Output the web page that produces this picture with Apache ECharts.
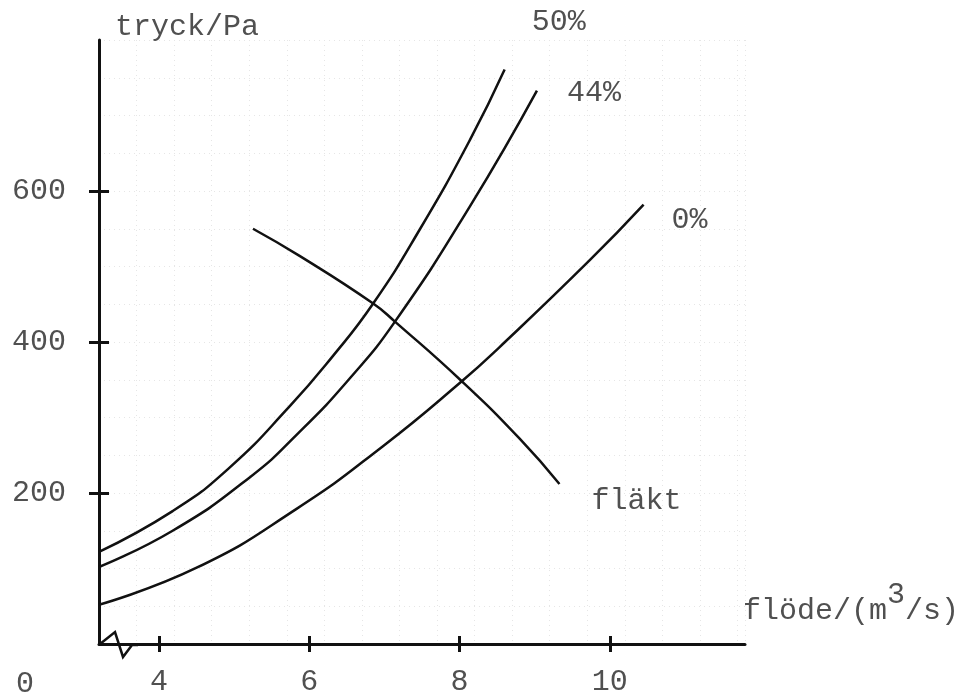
<!DOCTYPE html>
<html>
<head>
<meta charset="utf-8">
<script src="https://cdn.jsdelivr.net/npm/echarts@6/dist/echarts.min.js"></script>
<style>
  html, body { margin: 0; padding: 0; background: #ffffff; }
  #chart { width: 969px; height: 697px; }
</style>
</head>
<body>
<div id="chart"></div>
<script>
// System curves (damper opening) and fan curve: flow in m3/s, pressure in Pa
const flow50 = [3.2, 4.18, 4.92, 5.74, 6.31, 6.85, 7.47, 8.14, 8.6];
const pressure50 = [122, 176, 232, 315, 381, 451, 549, 668, 761];

const flow44 = [3.2, 4.18, 5.21, 5.87, 6.54, 7.14, 8.14, 9.03];
const pressure44 = [102, 150, 221, 281, 352, 427, 580, 733];

const flow0 = [3.2, 4.5, 5.83, 6.98, 8.03, 8.53, 9.73, 10.45];
const pressure0 = [52, 101, 179, 262, 348, 393, 508, 582];

const flowFan = [5.25, 5.87, 6.85, 7.14, 8.03, 8.8, 9.33];
const pressureFan = [550, 514, 451, 427, 348, 272, 212];

const curveNames = ['50%', '44%', '0%', 'fläkt'];

// Axis tick labels
const flowTicks = [4, 6, 8, 10];
const pressureTicks = [200, 400, 600];
const originLabel = '0';

const MONO = '"Liberation Mono", "DejaVu Sans Mono", monospace';
const INK = '#111111';
const TEXT = '#505050';

function pairs(xs, ys) {
  return xs.map((x, i) => [x, ys[i]]);
}

const chart = echarts.init(document.getElementById('chart'), null, { renderer: 'canvas' });

const labelStyle = { fontFamily: MONO, fontSize: 30, color: TEXT };

function curve(name, xs, ys, offset) {
  return {
    name: name,
    type: 'line',
    xAxisIndex: 0,
    yAxisIndex: 0,
    data: pairs(xs, ys),
    showSymbol: false,
    symbol: 'none',
    smooth: 0.5,
    lineStyle: { color: INK, width: 2.5 },
    endLabel: Object.assign({
      show: true,
      formatter: name,
      distance: 0,
      offset: offset,
      align: 'left',
      verticalAlign: 'middle'
    }, labelStyle),
    emphasis: { disabled: true },
    z: 5
  };
}

const flowRange = { min: 3.2, max: 11.8 };
const pressureRange = { min: 0, max: 800 };

const option = {
  animation: false,
  backgroundColor: '#ffffff',
  grid: { left: 99, right: 224, top: 40, bottom: 52 },
  xAxis: [
    {
      type: 'value',
      min: flowRange.min,
      max: flowRange.max,
      interval: 0.5,
      position: 'bottom',
      axisLine: { show: true, onZero: false, lineStyle: { color: INK, width: 3 } },
      axisTick: { show: false },
      axisLabel: { show: false },
      splitLine: { show: true, lineStyle: { color: '#e6e6e6', width: 1, type: [1, 4] } },
      name: '{a|flöde/(m}{s|3}{a|/s)}',
      nameLocation: 'end',
      nameGap: -2,
      nameTextStyle: {
        align: 'left',
        verticalAlign: 'bottom',
        padding: [0, 0, 18, 0],
        rich: {
          a: Object.assign({ verticalAlign: 'bottom', lineHeight: 30 }, labelStyle),
          s: Object.assign({ verticalAlign: 'bottom', lineHeight: 30, padding: [0, 0, 16, 0] }, labelStyle)
        }
      }
    },
    {
      type: 'value',
      min: flowRange.min,
      max: flowRange.max,
      position: 'bottom',
      axisLine: { show: false, onZero: false },
      axisTick: { show: true, customValues: flowTicks, length: 8, lineStyle: { color: INK, width: 3 } },
      axisLabel: Object.assign({ show: true, customValues: flowTicks, margin: 23 }, labelStyle),
      splitLine: { show: false }
    },
    {
      type: 'value',
      min: flowRange.min,
      max: flowRange.max,
      position: 'bottom',
      axisLine: { show: false, onZero: false },
      axisTick: { show: true, inside: true, customValues: flowTicks, length: 8, lineStyle: { color: INK, width: 3 } },
      axisLabel: { show: false },
      splitLine: { show: false }
    }
  ],
  yAxis: [
    {
      type: 'value',
      min: pressureRange.min,
      max: pressureRange.max,
      interval: 50,
      position: 'left',
      axisLine: { show: true, onZero: false, lineStyle: { color: INK, width: 3 } },
      axisTick: { show: false },
      axisLabel: { show: false },
      splitLine: { show: true, lineStyle: { color: '#e6e6e6', width: 1, type: [1, 4] } },
      name: 'tryck/Pa',
      nameLocation: 'end',
      nameGap: 13,
      nameTextStyle: Object.assign({ align: 'left', verticalAlign: 'middle', padding: [0, 0, 0, 16] }, labelStyle)
    },
    {
      type: 'value',
      min: pressureRange.min,
      max: pressureRange.max,
      position: 'left',
      axisLine: { show: false, onZero: false },
      axisTick: { show: true, customValues: pressureTicks, length: 10, lineStyle: { color: INK, width: 3 } },
      axisLabel: Object.assign({ show: true, customValues: pressureTicks, margin: 33 }, labelStyle),
      splitLine: { show: false }
    },
    {
      type: 'value',
      min: pressureRange.min,
      max: pressureRange.max,
      position: 'left',
      axisLine: { show: false, onZero: false },
      axisTick: { show: true, inside: true, customValues: pressureTicks, length: 10, lineStyle: { color: INK, width: 3 } },
      axisLabel: { show: false },
      splitLine: { show: false }
    }
  ],
  graphic: [
    {
      // broken-axis mark near the origin
      type: 'polyline',
      shape: { points: [[100, 644], [115, 632], [123, 657], [132, 645], [138, 645]] },
      style: { stroke: INK, lineWidth: 2.5, fill: null },
      z: 10
    },
    {
      type: 'text',
      left: 16,
      top: 669,
      style: { text: originLabel, font: '30px ' + MONO, fill: TEXT },
      z: 10
    }
  ],
  series: [
    curve(curveNames[0], flow50, pressure50, [27, -47]),
    curve(curveNames[1], flow44, pressure44, [30, 2]),
    curve(curveNames[2], flow0, pressure0, [28, 15]),
    curve(curveNames[3], flowFan, pressureFan, [32, 17])
  ]
};

chart.setOption(option);
</script>
</body>
</html>
